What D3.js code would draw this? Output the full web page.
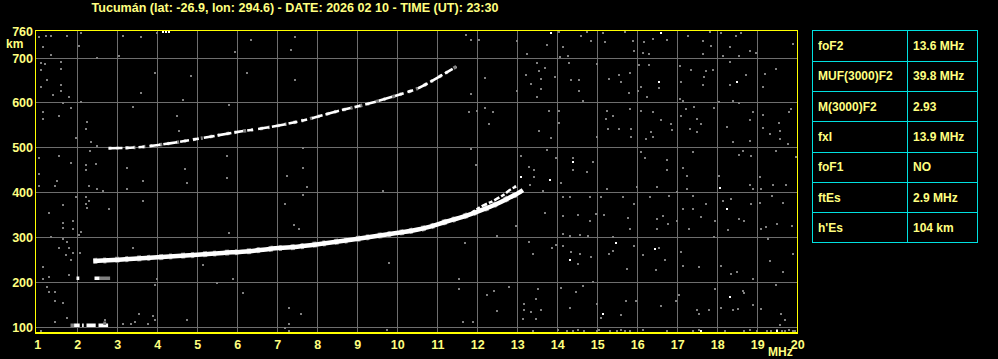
<!DOCTYPE html>
<html><head><meta charset="utf-8">
<script src="https://cdn.jsdelivr.net/npm/d3@7"></script>
<style>
body{margin:0;background:#000;overflow:hidden}
text{font-family:"Liberation Sans",Arial,sans-serif;font-weight:bold}
</style></head>
<body><svg id="chart" width="998" height="359"></svg>
<script>
// ---------- DATA ----------
const titleText = "Tucumán (lat: -26.9, lon: 294.6) - DATE: 2026 02 10 - TIME (UT): 23:30";
const freqTicks = [1,2,3,4,5,6,7,8,9,10,11,12,13,14,15,16,17,18,19,20];
const heightTicks = [100,200,300,400,500,600,700,760];
const tableLabels = ["foF2","MUF(3000)F2","M(3000)F2","fxI","foF1","ftEs","h'Es"];
const tableValues = ["13.6 MHz","39.8 MHz","2.93","13.9 MHz","NO","2.9 MHz","104 km"];

// F2 ordinary trace [MHz, km]
const traceF2o = [[2.4,248],[2.64,249],[3.2,252],[4.31,258],[5.0,262],[5.64,266],[6.3,270],[6.81,275],[7.5,280],[8.06,286],[8.89,296],[9.73,307],[10.39,316],[10.8,324],[11.23,336],[11.55,344],[11.82,352],[12.07,360],[12.48,375],[12.82,390],[13.0,398],[13.14,406]];
// F2 second branch near the critical frequency
const traceF2x = [[11.82,352],[12.07,368],[12.4,382],[12.65,395],[12.86,409],[13.02,415]];
// second-hop F2 trace
const trace2F2 = [[2.78,499],[3.48,501],[4.31,510],[5.14,522],[5.98,535],[6.81,546],[7.64,561],[8.48,581],[9.31,599],[10.14,621],[10.48,631],[10.81,646],[11.14,663],[11.48,681]];
// sporadic E segments [fStart, fEnd, km, tone]
const esSegments = [[1.83,1.92,106,"g"],[1.92,2.06,106,"w"],[2.12,2.16,106,"w"],[2.23,2.46,106,"w"],[2.53,2.77,106,"w"],[2.65,2.72,111,"g"],
  [1.98,2.05,211,"w"],[2.43,2.56,211,"w"],[2.56,2.82,210,"g"]];
// background noise speckles [MHz, km]
const noiseGray = [[1.04,746],[1.21,750],[1.34,750],[1.74,750],[2.1,755],[3.14,750],[3.6,747],[3.98,755],[1.14,724],[1.34,707],[2.04,727],[2.49,701],[3.04,705],[5.95,714],[6.35,740],[7.45,746],[7.35,718],[1.09,689],[1.2,687],[1.6,690],[1.09,674],[1.6,676],[3.95,667],[4.84,661],[6.24,667],[7.45,650],[1.25,650],[1.6,641],[1.09,636],[1.6,627],[1.39,618],[1.79,614],[3.6,623],[4.64,607],[1.64,599],[2.1,601],[3.39,592],[5.8,596],[1.14,579],[1.85,588],[1.54,570],[1.14,564],[2.24,557],[4.49,570],[2.21,543],[4.54,538],[1.96,521],[2.35,512],[2.49,505],[2.31,494],[1.04,477],[1.54,481],[1.85,467],[2.21,461],[2.46,463],[2.21,450],[3.24,455],[4.7,453],[5.74,481],[7.64,499],[7.64,455],[7.24,437],[5.74,432],[1.04,442],[1.49,427],[3.64,427],
[11.71,752],[11.85,741],[12.04,741],[14.04,757],[14.6,750],[14.74,758],[15.14,755],[15.7,758],[16.39,742],[17.27,750],[17.81,758],[18.1,755],[18.46,750],[18.6,755],[13.0,737],[13.74,730],[14.14,725],[14.85,737],[15.18,735],[15.89,737],[16.18,735],[16.74,741],[17.64,737],[17.85,727],[18.31,724],[18.81,715],[18.96,712],[19.89,731],[13.25,710],[14.06,703],[14.27,705],[15.91,715],[16.14,712],[16.28,710],[17.64,709],[18.14,705],[18.54,705],[13.5,689],[14.29,689],[14.98,687],[16.04,684],[16.29,685],[17.06,683],[17.35,673],[17.72,672],[17.89,673],[18.31,690],[19.46,676],[19.19,664],[13.54,672],[13.7,678],[13.21,663],[13.6,653],[13.95,657],[13.35,642],[13.6,631],[14.35,650],[14.54,650],[15.54,663],[15.81,667],[15.29,653],[15.6,646],[16.54,633],[17.1,646],[17.68,657],[17.64,641],[18.31,641],[18.71,663],[19.14,635],[11.85,619],[12.18,655],[12.99,627],[13.49,614],[14.54,627],[14.64,605],[15.79,621],[16.1,636],[16.02,626],[16.24,614],[17.06,609],[17.14,605],[18.39,605],[18.54,599],[18.04,601],[11.79,579],[11.99,581],[12.2,588],[12.4,579],[12.29,552],[13.79,583],[14.04,581],[14.04,555],[13.54,538],[15.24,581],[15.39,570],[15.21,564],[15.81,587],[16.1,581],[16.39,579],[16.6,561],[16.85,553],[16.88,540],[15.27,542],[15.54,542],[15.85,542],[14.98,524],[13.85,521],[16.35,535],[16.39,525],[16.21,520],[15.85,524],[17.1,570],[17.21,587],[17.43,590],[17.48,564],[17.6,553],[17.31,542],[17.5,535],[17.92,588],[18.25,547],[18.39,512],[18.81,516],[18.89,579],[18.81,561],[19.14,573],[19.14,544],[19.31,530],[19.54,555],[19.56,538],[19.56,520],[19.77,509],[19.79,579],[19.85,587],[11.85,498],[11.96,461],[13.1,481],[13.29,458],[13.43,450],[13.43,435],[13.74,496],[13.96,478],[14.39,478],[14.39,450],[14.74,446],[14.89,468],[16.1,490],[16.19,478],[16.74,473],[16.74,450],[17.14,455],[17.23,438],[17.39,490],[18.04,438],[18.54,485],[18.64,494],[18.85,481],[19.06,435],[19.46,494],[19.96,479],
[1.04,414],[1.45,414],[2.29,416],[2.5,408],[2.64,403],[3.24,408],[4.75,421],[7.74,412],[9.64,403],[1.96,390],[2.21,390],[2.29,381],[2.21,376],[2.24,367],[1.64,372],[2.79,364],[3.64,381],[7.64,395],[7.19,376],[1.29,354],[1.64,332],[1.64,321],[1.89,336],[1.89,319],[2.1,312],[2.04,306],[1.35,301],[1.64,296],[1.75,291],[1.54,278],[1.79,276],[1.89,266],[2.06,266],[1.71,261],[1.85,250],[1.14,234],[1.29,212],[1.14,208],[1.79,217],[3.39,278],[5.14,239],[5.79,310],[7.42,328],[7.54,319],[9.79,244],[5.49,199],[5.89,208],[6.14,177],[3.95,195],[3.99,208],[1.24,190],[1.45,180],[1.45,160],[1.64,155],[1.29,178],[1.74,121],[1.45,112],[2.68,116],[3.14,108],[3.35,108],[3.45,112],[3.54,130],[3.77,108],[3.89,125],[3.95,116],[4.75,117],[7.29,143],[7.6,130],[7.29,108],[7.19,99],[7.29,93],[9.74,95],[1.09,93],
[12.93,416],[13.31,417],[13.64,404],[14.1,421],[15.24,408],[15.99,412],[16.48,412],[16.99,401],[17.24,408],[18.81,417],[18.89,408],[19.1,408],[19.39,417],[19.72,417],[14.14,390],[14.31,390],[14.81,390],[15.1,390],[15.64,390],[15.93,375],[16.31,390],[16.79,393],[17.39,393],[17.71,375],[18.14,382],[18.35,386],[18.85,375],[19.06,378],[19.38,393],[19.64,378],[13.68,354],[14.14,349],[14.51,350],[14.81,338],[14.96,352],[15.16,350],[15.77,343],[16.49,341],[16.64,349],[16.77,330],[16.99,336],[17.14,364],[17.39,364],[17.6,345],[17.93,338],[18.27,316],[18.54,341],[18.68,338],[19.21,323],[19.49,330],[19.88,327],[14.14,308],[14.31,304],[14.56,306],[14.77,304],[15.39,301],[15.81,319],[16.49,319],[17.29,319],[17.91,301],[19.1,319],[19.27,298],[11.7,288],[12.96,325],[12.48,304],[13.29,291],[13.39,264],[13.87,276],[13.98,284],[14.14,282],[14.33,267],[14.56,264],[14.52,241],[14.85,256],[15.29,264],[15.39,271],[15.74,230],[15.91,282],[16.14,261],[16.46,229],[16.53,278],[16.68,251],[17.1,267],[17.14,238],[17.54,234],[18.1,238],[18.35,219],[18.48,223],[18.89,208],[19.31,247],[19.64,223],[19.89,264],[11.54,208],[11.54,186],[12.24,172],[12.41,182],[12.79,190],[12.49,136],[11.64,112],[11.89,112],[13.18,152],[13.18,138],[13.35,134],[13.46,164],[13.52,186],[13.6,140],[13.46,119],[13.14,119],[14.1,187],[14.31,143],[14.46,180],[14.64,193],[14.88,202],[14.98,152],[15.1,121],[15.6,127],[15.71,158],[15.96,158],[16.6,147],[16.96,158],[17.04,172],[17.5,138],[17.54,130],[17.79,140],[17.93,186],[18.1,143],[18.39,138],[18.52,141],[18.63,182],[18.68,177],[18.88,150],[19.1,141],[19.48,195],[19.6,130],[19.68,116],[19.58,105],
[13.39,93],[14.02,94],[14.24,92],[14.39,93],[14.52,94],[14.68,92],[14.98,93],[15.04,94],[15.31,92],[15.48,93],[15.6,94],[15.68,92],[15.81,93],[16.14,94],[16.74,93],[17.39,92],[17.54,94],[18.18,93],[18.68,92],[18.81,94],[18.98,93],[19.23,92],[19.35,93],[19.5,94],[19.62,92],[19.89,93],[19.7,92],[19.78,94],[19.95,92]];
const noiseWhite = [[4.15,758],[4.22,758],[4.29,758],[13.85,755],[16.6,755],[16.54,646],[18.5,646],[13.1,435],[13.81,429],[14.39,468],[18.08,410],[18.24,364],[15.46,288],[16.44,275],[14.31,251],[15.14,130],[18.33,167],[17.6,92],[19.5,93]];

// ---------- CHART ----------
const svg = d3.select("#chart");
const W = 998, H = 359;
svg.append("rect").attr("width",W).attr("height",H).attr("fill","#000");

const plot = {left:36, right:797.5, top:30.5, bottom:333};
const x = d3.scaleLinear().domain([1,20]).range([37.3,797.3]);
const y = d3.scaleLinear().domain([100,700]).range([327.5,58]);

const yellow = "#ffff00", label = "#ffff80", grid = "#6e6e6e", noise = "#808080";

// grid
const g = svg.append("g");
g.selectAll("line.v").data(freqTicks.filter(f=>f>1&&f<20)).join("line").attr("class","v")
  .attr("x1",d=>Math.floor(x(d))+0.5).attr("x2",d=>Math.floor(x(d))+0.5)
  .attr("y1",plot.top).attr("y2",plot.bottom).attr("stroke",grid).attr("stroke-width",1);
g.selectAll("line.h").data(heightTicks.filter(h=>h<=700)).join("line").attr("class","h")
  .attr("y1",d=>Math.floor(y(d))+0.5).attr("y2",d=>Math.floor(y(d))+0.5)
  .attr("x1",plot.left).attr("x2",plot.right).attr("stroke",grid).attr("stroke-width",1);

// noise
svg.append("g").selectAll("rect").data(noiseGray).join("rect")
  .attr("x",d=>Math.round(x(d[0]))-1).attr("y",d=>Math.round(y(d[1]))-1)
  .attr("width",2).attr("height",2).attr("fill",noise);
svg.append("g").selectAll("rect").data(noiseWhite).join("rect")
  .attr("x",d=>Math.round(x(d[0]))-1).attr("y",d=>Math.round(y(d[1]))-1)
  .attr("width",2).attr("height",2).attr("fill","#fff");

// traces
const line = d3.line().x(d=>x(d[0])).y(d=>y(d[1])).curve(d3.curveMonotoneX);
const tg = svg.append("g");
tg.append("path").datum(trace2F2).attr("d",line).attr("fill","none")
  .attr("stroke","#808080").attr("stroke-width",3.5).attr("stroke-dasharray","3 5 2 7");
tg.append("path").datum(trace2F2).attr("d",line).attr("fill","none")
  .attr("stroke","#fff").attr("stroke-width",2.6).attr("stroke-dasharray","14 3 9 4 6 5 11 3");
tg.append("path").datum(traceF2o).attr("d",line).attr("fill","none")
  .attr("stroke","#808080").attr("stroke-width",6).attr("stroke-dasharray","4 6 3 9");
tg.append("path").datum(traceF2o).attr("d",line).attr("fill","none")
  .attr("stroke","#fff").attr("stroke-width",4.5);
tg.append("path").datum(traceF2x).attr("d",line).attr("fill","none")
  .attr("stroke","#fff").attr("stroke-width",2.5).attr("stroke-dasharray","6 2 4 2");

tg.selectAll("rect.es").data(esSegments).join("rect")
  .attr("x",d=>x(d[0])).attr("width",d=>x(d[1])-x(d[0]))
  .attr("y",d=>Math.round(y(d[2]))-1.5).attr("height",3.5)
  .attr("fill",d=>d[3]==="w"?"#fff":"#808080");

// frame
const fr = svg.append("g").attr("stroke",yellow).attr("fill","none");
fr.append("line").attr("x1",35.5).attr("x2",35.5).attr("y1",30).attr("y2",334);
fr.append("line").attr("x1",35).attr("x2",798).attr("y1",30.5).attr("y2",30.5);
fr.append("line").attr("x1",797.5).attr("x2",797.5).attr("y1",30).attr("y2",334);
fr.append("line").attr("x1",35).attr("x2",798).attr("y1",333).attr("y2",333).attr("stroke-width",2);

// axes
const xAxis = d3.axisBottom(x).tickValues(freqTicks).tickSize(0).tickPadding(7).tickFormat(d3.format("d"));
const xa = svg.append("g").attr("transform","translate(0,333)").call(xAxis);
xa.select(".domain").remove();
xa.selectAll("text").attr("fill",label).style("font-size","12.5px").style("font-family","'Liberation Sans',Arial,sans-serif").style("font-weight","bold");

const yAxis = d3.axisLeft(y).tickValues(heightTicks).tickSize(0).tickPadding(3).tickFormat(d3.format("d"));
const ya = svg.append("g").attr("transform","translate(36,0)").call(yAxis);
ya.select(".domain").remove();
ya.selectAll("text").attr("fill",label).style("font-size","12.5px").style("font-family","'Liberation Sans',Arial,sans-serif").style("font-weight","bold");

svg.append("text").attr("x",6).attr("y",48).attr("fill",label).style("font-size","12px").text("km");
svg.append("text").attr("x",768).attr("y",356).attr("fill",label).style("font-size","12px").text("MHz");

// title
svg.append("text").attr("x",91.5).attr("y",12).attr("fill",label).style("font-size","12px")
  .attr("textLength",407).attr("lengthAdjust","spacingAndGlyphs").text(titleText);

// table
const tx0 = 812.5, tx1 = 907.5, tx2 = 977.5;
const rows = d3.scaleBand().domain(tableLabels).range([30.5,242.5]);
const tb = svg.append("g");
tb.append("rect").attr("x",tx0).attr("y",30.5).attr("width",tx2-tx0).attr("height",212)
  .attr("fill","none").attr("stroke","#00e0e0");
tb.append("line").attr("x1",tx1).attr("x2",tx1).attr("y1",30.5).attr("y2",242.5).attr("stroke","#00e0e0");
tb.selectAll("line.r").data(tableLabels.slice(1)).join("line")
  .attr("x1",tx0).attr("x2",tx2).attr("y1",d=>Math.round(rows(d))+0.5).attr("y2",d=>Math.round(rows(d))+0.5)
  .attr("stroke","#00e0e0");
tb.selectAll("text.l").data(tableLabels).join("text")
  .attr("x",818).attr("y",d=>rows(d)+rows.bandwidth()/2+4.5).attr("fill",label).style("font-size","12px").text(d=>d);
tb.selectAll("text.v").data(tableValues).join("text")
  .attr("x",913).attr("y",(d,i)=>rows(tableLabels[i])+rows.bandwidth()/2+4.5).attr("fill",label).style("font-size","12px").text(d=>d);
</script>
</body></html>
